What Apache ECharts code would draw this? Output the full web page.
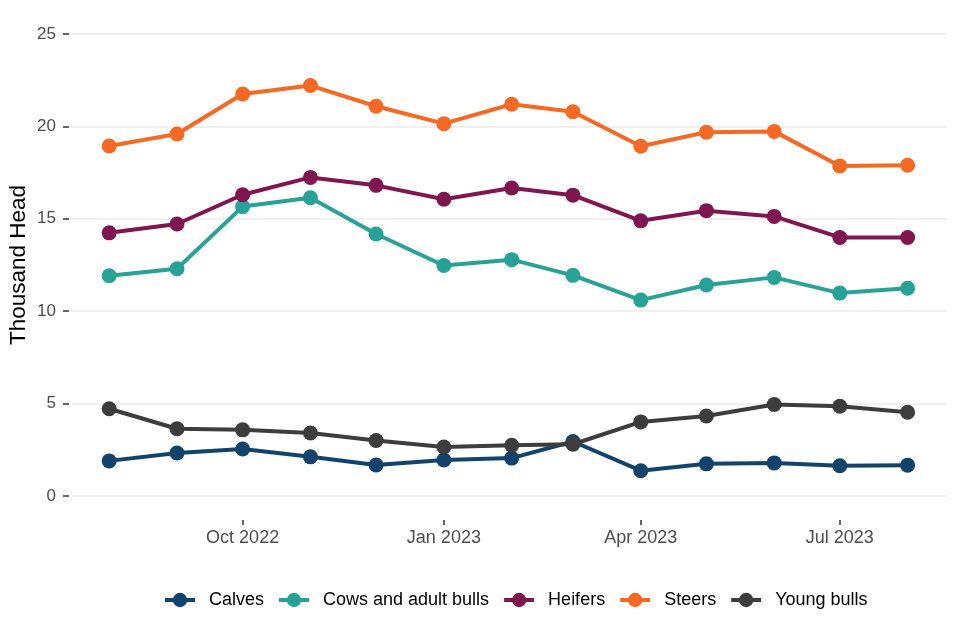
<!DOCTYPE html>
<html>
<head>
<meta charset="utf-8">
<script src="https://cdn.jsdelivr.net/npm/echarts@6/dist/echarts.min.js"></script>
<style>
html,body{margin:0;padding:0;background:#fff;}
#chart{width:960px;height:640px;}
</style>
</head>
<body>
<div id="chart"></div>
<script>
// ---- Data ----
var months = ['2022-08-01','2022-09-01','2022-10-01','2022-11-01','2022-12-01','2023-01-01','2023-02-01','2023-03-01','2023-04-01','2023-05-01','2023-06-01','2023-07-01','2023-08-01'];
var calves = [1.9, 2.33, 2.54, 2.12, 1.68, 1.95, 2.05, 2.95, 1.37, 1.74, 1.79, 1.64, 1.67];
var cowsAndAdultBulls = [11.92, 12.3, 15.66, 16.14, 14.18, 12.47, 12.79, 11.94, 10.6, 11.42, 11.83, 10.98, 11.24];
var heifers = [14.24, 14.72, 16.3, 17.24, 16.81, 16.06, 16.67, 16.28, 14.89, 15.44, 15.13, 13.99, 13.99];
var steers = [18.94, 19.59, 21.75, 22.21, 21.09, 20.15, 21.2, 20.79, 18.93, 19.68, 19.73, 17.86, 17.9];
var youngBulls = [4.72, 3.64, 3.58, 3.41, 3.0, 2.65, 2.75, 2.8, 4.01, 4.33, 4.95, 4.86, 4.53];
var seriesNames = ['Calves', 'Cows and adult bulls', 'Heifers', 'Steers', 'Young bulls'];
var xTickDates = ['2022-10-01', '2023-01-01', '2023-04-01', '2023-07-01'];
var monthNames = ['Jan','Feb','Mar','Apr','May','Jun','Jul','Aug','Sep','Oct','Nov','Dec'];
var yTicks = [0, 5, 10, 15, 20, 25];

function toTime(s) {
  var p = s.split('-');
  return Date.UTC(+p[0], +p[1] - 1, +p[2]);
}

var colors = ['#12436D', '#28A197', '#801650', '#F46A25', '#3D3D3D'];
var values = [calves, cowsAndAdultBulls, heifers, steers, youngBulls];

var series = seriesNames.map(function (name, i) {
  return {
    name: name,
    type: 'line',
    data: months.map(function (m, j) { return [toTime(m), values[i][j]]; }),
    symbol: 'circle',
    symbolSize: 15,
    clip: false,
    lineStyle: { width: 4, color: colors[i] },
    itemStyle: { color: colors[i] },
    emphasis: { disabled: true },
    z: 2 + i
  };
});

var chart = echarts.init(document.getElementById('chart'), null, { renderer: 'canvas' });
var tickTimes = xTickDates.map(toTime);
chart.setOption({
  animation: false,
  backgroundColor: '#ffffff',
  textStyle: { fontFamily: 'Liberation Sans, Arial, sans-serif' },
  grid: { left: 72, right: 13, top: 34, bottom: 144, containLabel: false, outerBoundsMode: 'none' },
  legend: {
    bottom: 26,
    left: 158,
    itemWidth: 30,
    itemHeight: 18,
    itemGap: 13,
    lineStyle: { width: 4 },
    textStyle: { fontSize: 18, color: '#000000', padding: [0, 0, 0, 9], fontFamily: 'Liberation Sans, Arial, sans-serif' },
    data: seriesNames
  },
  xAxis: {
    type: 'value',
    min: toTime('2022-07-15'),
    max: toTime('2023-08-19'),
    offset: 24,
    axisLine: { show: false, onZero: false },
    axisTick: { show: true, length: 5, lineStyle: { color: '#333333', width: 1.5 }, customValues: tickTimes },
    axisLabel: {
      customValues: tickTimes,
      margin: 9,
      fontSize: 18,
      color: '#4D4D4D',
      formatter: function (v) {
        var d = new Date(v);
        return monthNames[d.getUTCMonth()] + ' ' + d.getUTCFullYear();
      }
    },
    splitLine: { show: false }
  },
  yAxis: {
    type: 'value',
    min: yTicks[0],
    max: yTicks[yTicks.length - 1],
    interval: 5,
    offset: 3,
    name: 'Thousand Head',
    nameLocation: 'middle',
    nameGap: 39,
    nameMoveOverlap: false,
    nameTextStyle: { fontSize: 22.5, color: '#000000' },
    axisLine: { show: false },
    axisTick: { show: true, length: 6, lineStyle: { color: '#333333', width: 1.5 } },
    axisLabel: { margin: 13, fontSize: 17, color: '#4D4D4D' },
    splitLine: { show: true, lineStyle: { color: '#EBEBEB', width: 1.5 } }
  },
  series: series
});
</script>
</body>
</html>
